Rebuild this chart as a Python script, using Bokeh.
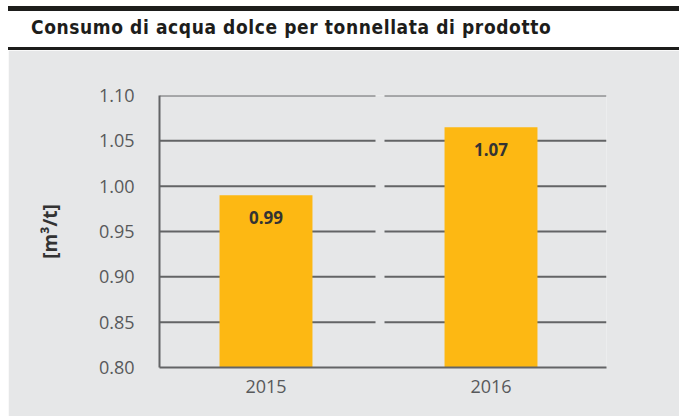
from bokeh.plotting import figure
from bokeh.models import Div, FixedTicker, NumeralTickFormatter, ColumnDataSource, Range1d
from bokeh.layouts import column
from bokeh.embed import file_html
from bokeh.resources import INLINE
from bokeh.core.properties import value

# ---- data ----
title_text = "Consumo di acqua dolce per tonnellata di prodotto"
years = ["2015", "2016"]
values = [0.99, 1.065]
value_labels = ["0.99", "1.07"]
y_ticks = [0.80, 0.85, 0.90, 0.95, 1.00, 1.05, 1.10]
y_label = "[m³/t]"

GREY = "#E6E7E8"
AXIS = "#636466"
BAR = "#FDB813"

xpos = list(range(len(years)))

header = Div(
    text=(
        '<div style="position:relative;width:671px;height:44px;box-sizing:border-box;'
        'border-top:5px solid #1d1d1b;border-bottom:3px solid #1d1d1b;background:#ffffff;">'
        '<span style="position:absolute;left:23px;top:7px;white-space:nowrap;line-height:19px;'
        "font-family:'DejaVu Sans Condensed','DejaVu Sans';font-stretch:condensed;letter-spacing:0.6px;"
        'font-weight:bold;font-size:19px;color:#1d1d1b;">'
        + title_text + "</span></div>"
    ),
    width=671, height=44, margin=0,
)

p = figure(
    width=671, height=366, output_backend="svg", toolbar_location=None,
    x_range=Range1d(-0.4733, 1.5133), y_range=Range1d(y_ticks[0], y_ticks[-1]),
    min_border_left=151, min_border_right=73, min_border_top=45, min_border_bottom=49,
    background_fill_color=GREY, border_fill_color=GREY, outline_line_color=None,
    margin=0,
)
p.xgrid.visible = False
p.ygrid.visible = False

# broken gridlines (one segment per category)
gx0, gx1, gy = [], [], []
for t in y_ticks[1:]:
    gx0.append(-0.4733); gx1.append(0.4867); gy.append(t)
    gx0.append(0.5267); gx1.append(1.5133); gy.append(t)
p.segment(x0=gx0, x1=gx1, y0=gy, y1=gy, line_color=AXIS, line_width=2)

src = ColumnDataSource(dict(x=xpos, top=values, lab=value_labels))
p.vbar(x="x", top="top", bottom=y_ticks[0], width=0.413, source=src,
       fill_color=BAR, line_color=None)
p.text(x="x", y="top", text="lab", source=src, text_align="center",
       text_baseline="middle", y_offset=22, text_font=value("Open Sans"),
       text_font_style="bold", text_font_size="17px", text_color="#333333")

# axes
p.yaxis.ticker = FixedTicker(ticks=y_ticks)
p.yaxis.formatter = NumeralTickFormatter(format="0.00")
p.yaxis.axis_line_color = AXIS
p.yaxis.axis_line_width = 2
p.yaxis.major_tick_line_color = None
p.yaxis.minor_tick_line_color = None
p.yaxis.major_label_text_font = "Open Sans"
p.yaxis.major_label_text_font_size = "18px"
p.yaxis.major_label_text_color = "#58595B"
p.yaxis.major_label_standoff = 19
p.yaxis.axis_label = y_label
p.yaxis.axis_label_text_font = "Open Sans"
p.yaxis.axis_label_text_font_style = "bold"
p.yaxis.axis_label_text_font_size = "19px"
p.yaxis.axis_label_text_color = "#333333"
p.yaxis.axis_label_standoff = 33

p.xaxis.ticker = FixedTicker(ticks=xpos)
p.xaxis.major_label_overrides = {i: y for i, y in zip(xpos, years)}
p.xaxis.axis_line_color = AXIS
p.xaxis.axis_line_width = 2
p.xaxis.major_tick_line_color = None
p.xaxis.minor_tick_line_color = None
p.xaxis.major_label_text_font = "Open Sans"
p.xaxis.major_label_text_font_size = "18px"
p.xaxis.major_label_text_color = "#58595B"
p.xaxis.major_label_standoff = 6

layout = column(header, p, spacing=0, margin=(6, 0, 0, 8))
open("out.html", "w").write(file_html(layout, INLINE))
